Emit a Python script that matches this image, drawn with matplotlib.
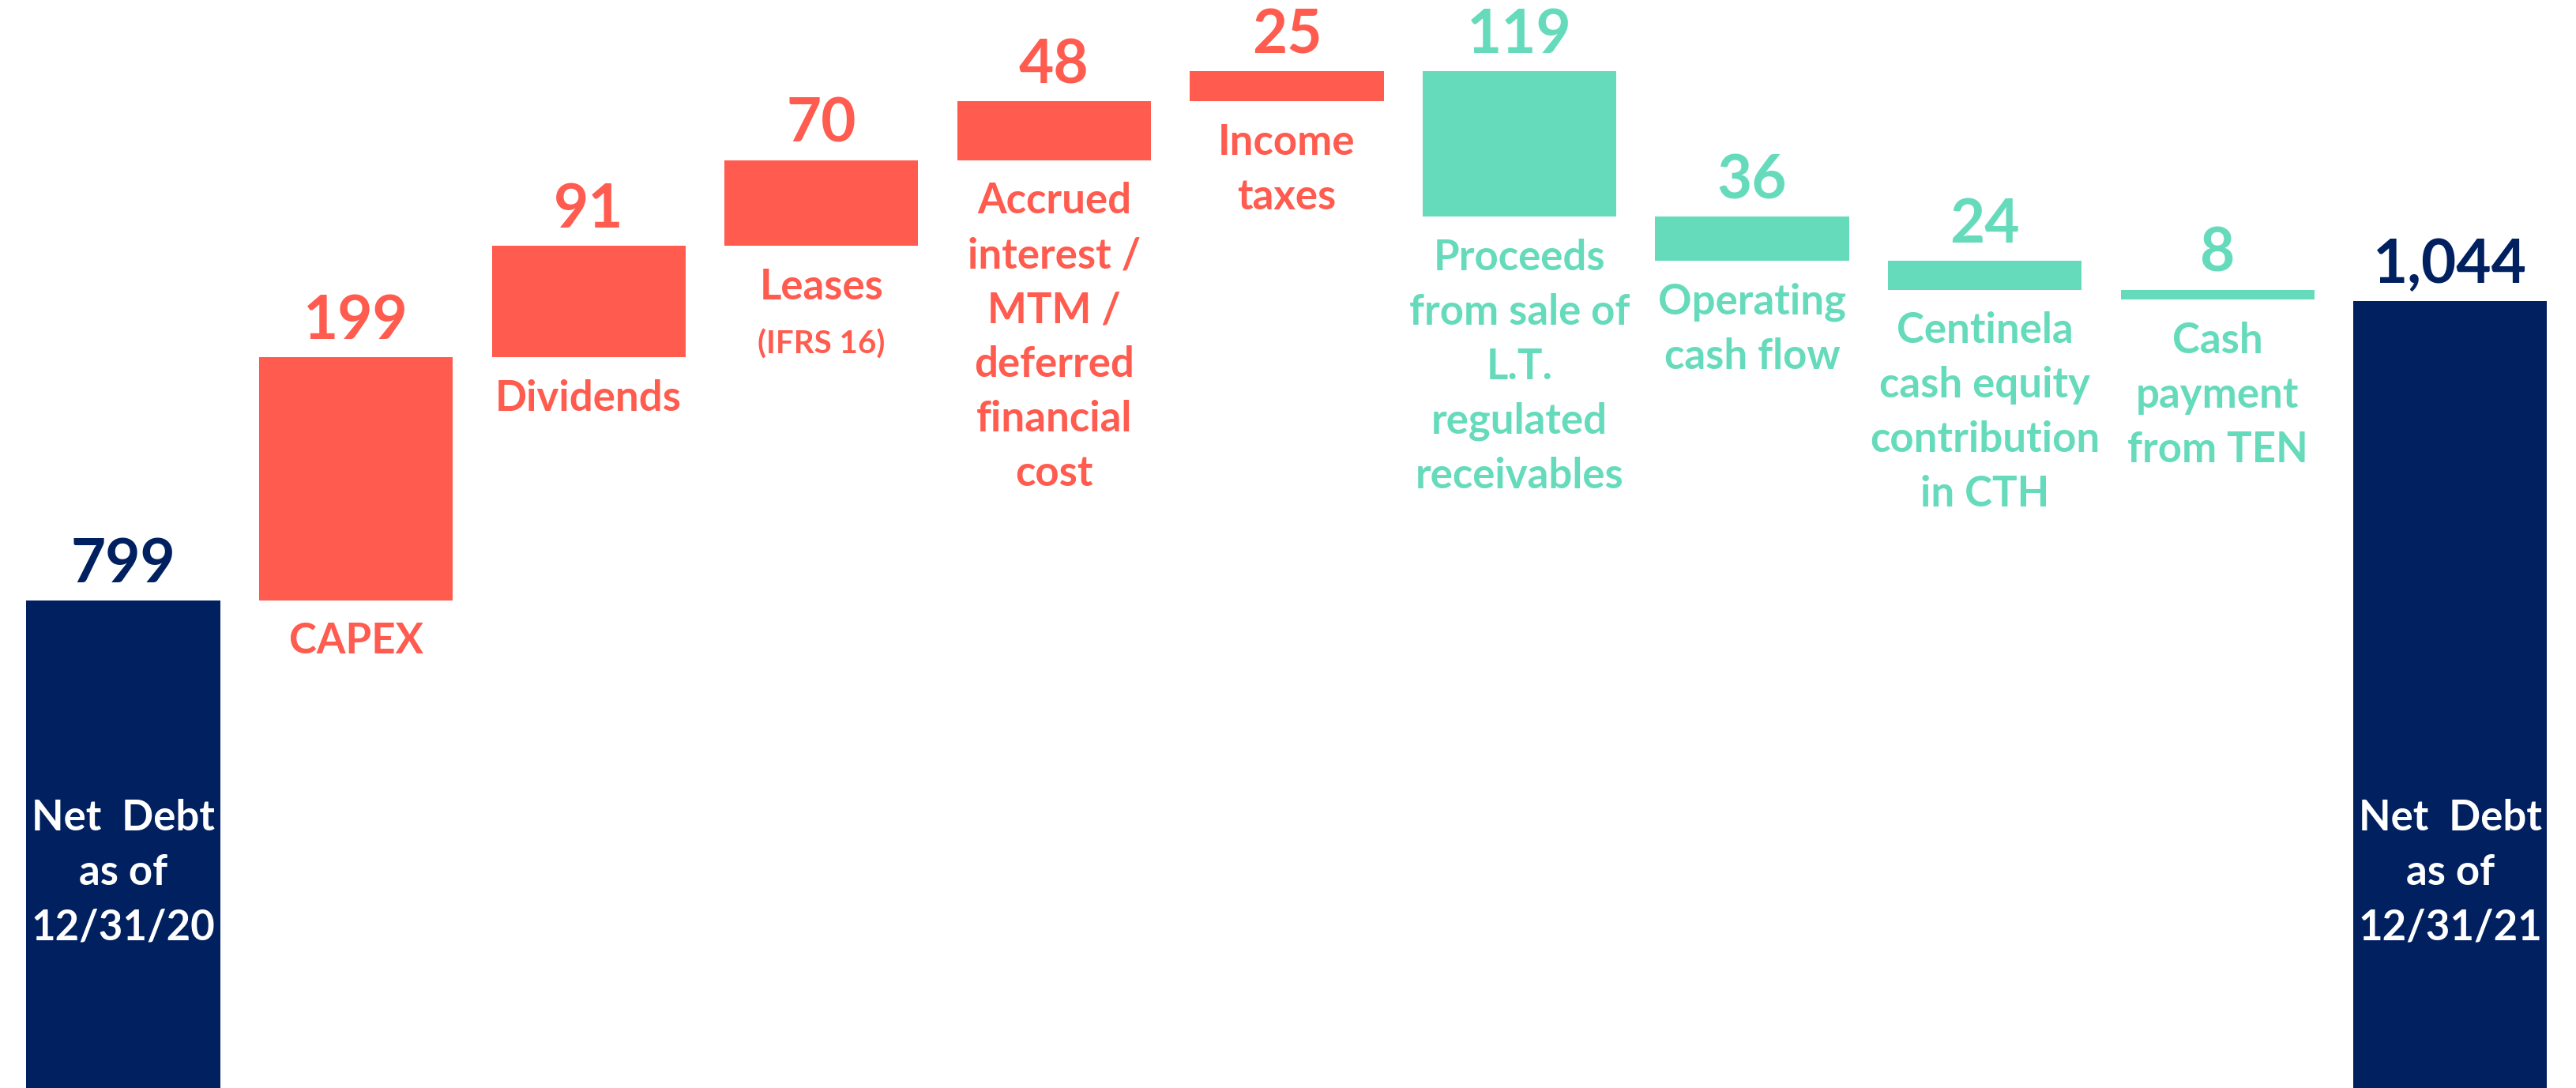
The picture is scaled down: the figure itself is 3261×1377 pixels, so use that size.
import matplotlib
matplotlib.use("Agg")
import matplotlib.pyplot as plt

# ---- data ----
start_label = "Net  Debt\nas of\n12/31/20"
end_label = "Net  Debt\nas of\n12/31/21"
start_value = 799
end_value = 1044
categories = ["CAPEX", "Dividends", "Leases", "Accrued\ninterest /\nMTM /\ndeferred\nfinancial\ncost",
              "Income\ntaxes", "Proceeds\nfrom sale of\nL.T.\nregulated\nreceivables",
              "Operating\ncash flow", "Centinela\ncash equity\ncontribution\nin CTH",
              "Cash\npayment\nfrom TEN"]
changes = [199, 91, 70, 48, 25, -119, -36, -24, -8]
value_labels = ["799", "199", "91", "70", "48", "25", "119", "36", "24", "8", "1,044"]
sub_labels = {2: "(IFRS 16)"}

RED = "#FF5B4F"
TEAL = "#66DBBC"
NAVY = "#002060"

plt.rcParams['font.family'] = ['Lato', 'DejaVu Sans']
plt.rcParams['font.weight'] = 'bold'

fig = plt.figure(figsize=(32.62, 13.77), dpi=100)
ax = fig.add_axes([0, 0, 1, 1])
ax.set_axis_off()
ax.set_xlim(-0.53, 10.544)
ax.set_ylim(400, 1290)

W = 0.833
n = len(changes) + 2

VFS = 55   # value label font size
CFS = 38   # category label font size
LS = 1.5
VOFF = 7

# start bar
ax.bar(0, start_value, width=W, color=NAVY, bottom=0)
ax.annotate(value_labels[0], (0, start_value), xytext=(0, VOFF), textcoords="offset points",
            ha="center", va="bottom", fontsize=VFS, color=NAVY, fontweight="bold")
ax.text(0, 576, start_label, ha="center", va="center", fontsize=CFS, color="white",
        fontweight="bold", linespacing=LS)

level = start_value
for i, (cat, ch) in enumerate(zip(categories, changes), start=1):
    col = RED if ch > 0 else TEAL
    lo = min(level, level + ch)
    hi = max(level, level + ch)
    ax.bar(i, hi - lo, width=W, bottom=lo, color=col)
    ax.annotate(value_labels[i], (i, hi), xytext=(0, VOFF), textcoords="offset points",
                ha="center", va="bottom", fontsize=VFS, color=col, fontweight="bold")
    ax.annotate(cat, (i, lo), xytext=(0, -20), textcoords="offset points",
                ha="center", va="top", fontsize=CFS, color=col, fontweight="bold",
                linespacing=LS)
    if (i - 1) in sub_labels:
        ax.annotate(sub_labels[i - 1], (i, lo), xytext=(0, -76), textcoords="offset points",
                    ha="center", va="top", fontsize=29, color=col, fontweight="bold")
    level += ch

# end bar
ax.bar(n - 1, end_value, width=W, color=NAVY, bottom=0)
ax.annotate(value_labels[-1], (n - 1, end_value), xytext=(0, VOFF), textcoords="offset points",
            ha="center", va="bottom", fontsize=VFS, color=NAVY, fontweight="bold")
ax.text(n - 1, 576, end_label, ha="center", va="center", fontsize=CFS, color="white",
        fontweight="bold", linespacing=LS)

fig.savefig("out.png", dpi=100)
